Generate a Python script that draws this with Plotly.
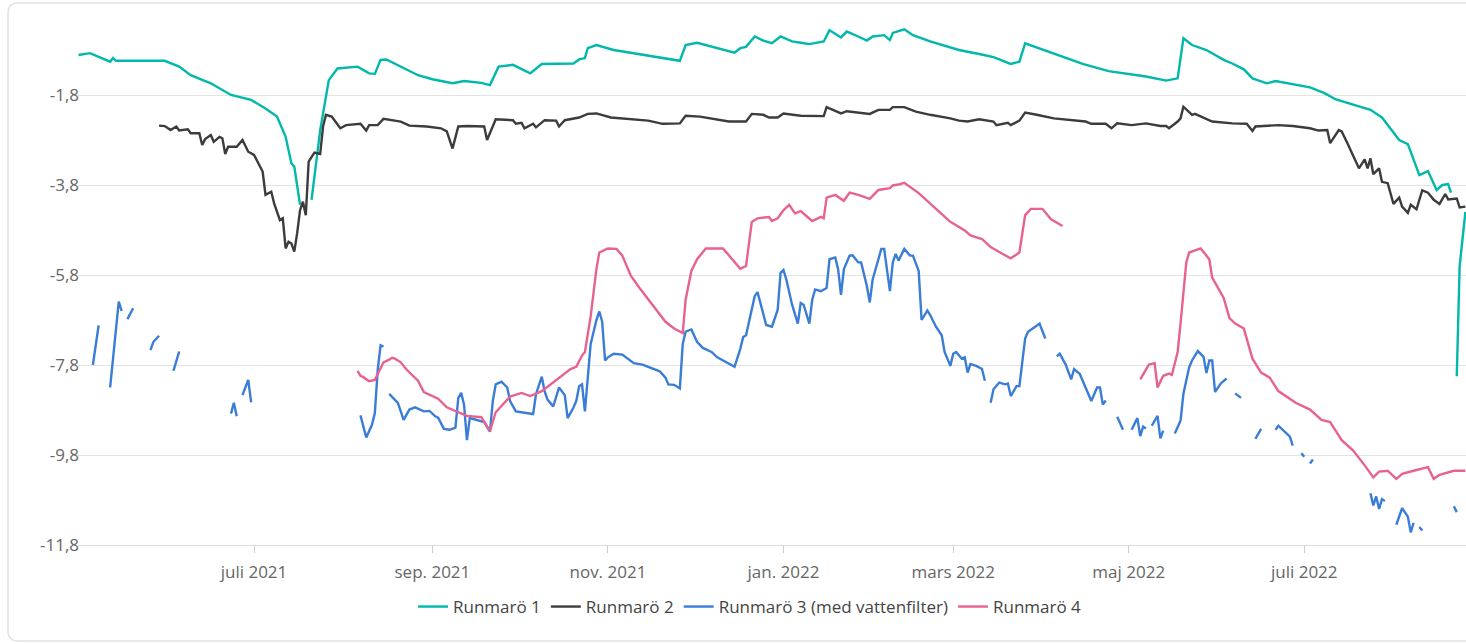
import plotly.graph_objects as go

# ---------------- data ----------------
r1_dates = ["2021-05-01","2021-05-05","2021-05-12","2021-05-13","2021-05-14","2021-05-31","2021-06-05","2021-06-09",
            "2021-06-16","2021-06-23","2021-06-30","2021-07-05","2021-07-09","2021-07-12","2021-07-14","2021-07-15",
            "2021-07-17","2021-07-19","2021-07-21","2021-07-23","2021-07-24","2021-07-27","2021-07-30","2021-08-06",
            "2021-08-10","2021-08-12","2021-08-14","2021-08-16","2021-08-21","2021-08-27","2021-09-01","2021-09-08",
            "2021-09-12","2021-09-18","2021-09-21","2021-09-24","2021-09-29","2021-10-05","2021-10-09","2021-10-20",
            "2021-10-22","2021-10-24","2021-10-25","2021-10-28","2021-11-03","2021-11-15","2021-11-26","2021-11-28",
            "2021-12-02","2021-12-15","2021-12-17","2021-12-19","2021-12-22","2021-12-25","2021-12-28","2021-12-31",
            "2022-01-04","2022-01-07","2022-01-10","2022-01-15","2022-01-17","2022-01-21","2022-01-23","2022-01-27",
            "2022-01-30","2022-02-01","2022-02-05","2022-02-07","2022-02-08","2022-02-12","2022-02-15","2022-02-21",
            "2022-03-01","2022-03-03","2022-03-10","2022-03-15","2022-03-21","2022-03-24","2022-03-26","2022-04-01",
            "2022-04-15","2022-04-24","2022-05-07","2022-05-14","2022-05-18","2022-05-20","2022-05-23","2022-05-28",
            "2022-06-03","2022-06-06","2022-06-10","2022-06-13","2022-06-18","2022-06-21","2022-07-03","2022-07-08",
            "2022-07-12","2022-07-24","2022-07-28","2022-08-03","2022-08-06","2022-08-10","2022-08-13","2022-08-16",
            "2022-08-18","2022-08-20","2022-08-21","2022-08-22","2022-08-23","2022-08-24","2022-08-26"]
r1_vals = [-0.91,-0.87,-1.06,-0.98,-1.04,-1.04,-1.17,-1.36,
           -1.54,-1.80,-1.91,-2.10,-2.28,-2.73,-3.32,-3.39,
           -4.24,None,-4.13,-3.17,-2.58,-1.47,-1.21,-1.17,
           -1.32,-1.33,-1.02,-1.01,-1.17,-1.36,-1.45,-1.54,
           -1.49,-1.53,-1.58,-1.17,-1.13,-1.32,-1.11,-1.10,
           -1.01,-0.98,-0.76,-0.69,-0.80,-0.93,-1.04,-0.69,
           -0.64,-0.86,-0.76,-0.73,-0.50,-0.59,-0.65,-0.50,
           -0.61,-0.64,-0.67,-0.61,-0.36,-0.52,-0.39,-0.50,
           -0.59,-0.50,-0.47,-0.58,-0.42,-0.34,-0.47,-0.61,
           -0.76,-0.80,-0.89,-0.96,-1.11,-1.06,-0.65,-0.79,
           -1.11,-1.27,-1.39,-1.48,-1.43,-0.54,-0.69,-0.80,
           -1.02,-1.10,-1.23,-1.43,-1.54,-1.49,-1.63,-1.76,
           -1.90,-2.13,-2.30,-2.80,-2.89,-3.58,-3.49,-3.91,
           -3.80,-3.78,-3.97,None,-8.05,-5.60,-4.40]

r2_dates = ["2021-05-29","2021-05-31","2021-06-02","2021-06-04","2021-06-05","2021-06-08","2021-06-09","2021-06-12",
            "2021-06-13","2021-06-14","2021-06-16","2021-06-17","2021-06-19","2021-06-20","2021-06-21","2021-06-22",
            "2021-06-25","2021-06-27","2021-06-29","2021-07-01","2021-07-04","2021-07-05","2021-07-07","2021-07-08",
            "2021-07-10","2021-07-11","2021-07-12","2021-07-13","2021-07-14","2021-07-15","2021-07-16","2021-07-17",
            "2021-07-18","2021-07-19","2021-07-20","2021-07-22","2021-07-24","2021-07-25","2021-07-26","2021-07-28",
            "2021-07-31","2021-08-02","2021-08-07","2021-08-09","2021-08-10","2021-08-13","2021-08-15","2021-08-21",
            "2021-08-24","2021-08-30","2021-09-04","2021-09-06","2021-09-08","2021-09-10","2021-09-13","2021-09-19",
            "2021-09-20","2021-09-23","2021-09-29","2021-09-30","2021-10-02","2021-10-03","2021-10-06","2021-10-07",
            "2021-10-10","2021-10-14","2021-10-15","2021-10-17","2021-10-22","2021-10-25","2021-10-28","2021-11-02",
            "2021-11-15","2021-11-20","2021-11-26","2021-11-28","2021-12-03","2021-12-13","2021-12-19","2021-12-21",
            "2021-12-25","2021-12-27","2021-12-30","2022-01-01","2022-01-07","2022-01-15","2022-01-16","2022-01-21",
            "2022-01-23","2022-01-31","2022-02-03","2022-02-07","2022-02-08","2022-02-12","2022-02-16","2022-02-21",
            "2022-02-28","2022-03-03","2022-03-06","2022-03-10","2022-03-15","2022-03-16","2022-03-20","2022-03-21",
            "2022-03-24","2022-03-26","2022-03-30","2022-04-05","2022-04-16","2022-04-18","2022-04-23","2022-04-25",
            "2022-04-27","2022-05-02","2022-05-07","2022-05-12","2022-05-14","2022-05-15","2022-05-18","2022-05-19",
            "2022-05-20","2022-05-21","2022-05-23","2022-05-24","2022-05-30","2022-06-06","2022-06-11","2022-06-13",
            "2022-06-14","2022-06-22","2022-06-27","2022-07-03","2022-07-06","2022-07-09","2022-07-10","2022-07-13",
            "2022-07-14","2022-07-16","2022-07-19","2022-07-20","2022-07-22","2022-07-23","2022-07-24","2022-07-25",
            "2022-07-27","2022-07-28","2022-07-30","2022-08-01","2022-08-03","2022-08-04","2022-08-06","2022-08-07",
            "2022-08-09","2022-08-11","2022-08-13","2022-08-15","2022-08-17","2022-08-19","2022-08-20","2022-08-23",
            "2022-08-24","2022-08-26"]
r2_vals = [-2.48,-2.49,-2.58,-2.50,-2.59,-2.56,-2.65,-2.65,
           -2.91,-2.78,-2.69,-2.84,-2.73,-2.76,-3.11,-2.95,
           -2.95,-2.80,-3.06,-3.13,-3.50,-4.02,-3.95,-4.21,
           -4.58,-4.54,-5.21,-5.06,-5.10,-5.28,-4.87,-4.36,
           -4.17,-4.47,-3.28,-3.08,-3.11,-2.50,-2.24,-2.28,
           -2.54,-2.47,-2.44,-2.59,-2.47,-2.47,-2.33,-2.39,
           -2.48,-2.50,-2.54,-2.61,-2.99,-2.50,-2.49,-2.50,
           -2.80,-2.34,-2.36,-2.44,-2.42,-2.54,-2.44,-2.52,
           -2.36,-2.37,-2.50,-2.36,-2.30,-2.22,-2.21,-2.30,
           -2.37,-2.44,-2.43,-2.26,-2.28,-2.39,-2.39,-2.22,
           -2.24,-2.30,-2.30,-2.21,-2.26,-2.27,-2.07,-2.21,
           -2.16,-2.22,-2.13,-2.13,-2.07,-2.07,-2.17,-2.24,
           -2.32,-2.37,-2.39,-2.34,-2.39,-2.47,-2.42,-2.47,
           -2.37,-2.19,-2.24,-2.32,-2.39,-2.44,-2.44,-2.54,
           -2.43,-2.47,-2.43,-2.49,-2.49,-2.54,-2.39,-2.32,
           -2.06,-2.12,-2.24,-2.22,-2.39,-2.43,-2.44,-2.60,
           -2.50,-2.47,-2.49,-2.54,-2.59,-2.58,-2.87,-2.58,
           -2.61,-2.87,-3.32,-3.43,-3.23,-3.43,-3.21,-3.56,
           -3.43,-3.73,-3.76,-4.22,-4.08,-4.28,-4.42,-4.24,
           -4.34,-3.92,-3.97,-4.13,-4.22,-4.00,-4.12,-4.10,
           -4.30,-4.28]

r3_dates = ["2021-05-06","2021-05-08","2021-05-10","2021-05-12","2021-05-15","2021-05-16","2021-05-17","2021-05-18",
            "2021-05-20","2021-05-23","2021-05-26","2021-05-27","2021-05-29","2021-06-01","2021-06-03","2021-06-05",
            "2021-06-10","2021-06-23","2021-06-24","2021-06-25","2021-06-26","2021-06-27","2021-06-29","2021-06-30",
            "2021-07-15","2021-08-07","2021-08-09","2021-08-11","2021-08-12","2021-08-13","2021-08-14","2021-08-15",
            "2021-08-16","2021-08-17","2021-08-20","2021-08-22","2021-08-24","2021-08-26","2021-08-29","2021-08-31",
            "2021-09-02","2021-09-03","2021-09-05","2021-09-07","2021-09-09","2021-09-10","2021-09-11","2021-09-12",
            "2021-09-13","2021-09-14","2021-09-16","2021-09-19","2021-09-21","2021-09-22","2021-09-23","2021-09-25",
            "2021-09-27","2021-09-28","2021-09-30","2021-10-02","2021-10-06","2021-10-07","2021-10-09","2021-10-10",
            "2021-10-11","2021-10-13","2021-10-15","2021-10-17","2021-10-18","2021-10-20","2021-10-21","2021-10-22",
            "2021-10-23","2021-10-24","2021-10-25","2021-10-26","2021-10-28","2021-10-29","2021-10-30","2021-10-31",
            "2021-11-01","2021-11-03","2021-11-06","2021-11-08","2021-11-10","2021-11-13","2021-11-16","2021-11-19",
            "2021-11-21","2021-11-22","2021-11-24","2021-11-26","2021-11-27","2021-11-28","2021-11-30","2021-12-02",
            "2021-12-04","2021-12-07","2021-12-09","2021-12-11","2021-12-13","2021-12-15","2021-12-17","2021-12-18",
            "2021-12-19","2021-12-22","2021-12-23","2021-12-24","2021-12-26","2021-12-28","2021-12-30","2021-12-31",
            "2022-01-01","2022-01-02","2022-01-04","2022-01-06","2022-01-07","2022-01-08","2022-01-10","2022-01-11",
            "2022-01-12","2022-01-14","2022-01-16","2022-01-17","2022-01-19","2022-01-20","2022-01-21","2022-01-22",
            "2022-01-24","2022-01-25","2022-01-27","2022-01-28","2022-01-30","2022-01-31","2022-02-01","2022-02-03",
            "2022-02-04","2022-02-05","2022-02-07","2022-02-08","2022-02-09","2022-02-10","2022-02-12","2022-02-14",
            "2022-02-15","2022-02-17","2022-02-18","2022-02-20","2022-02-21","2022-02-23","2022-02-25","2022-02-26",
            "2022-02-28","2022-03-01","2022-03-02","2022-03-04","2022-03-05","2022-03-06","2022-03-07","2022-03-09",
            "2022-03-11","2022-03-12","2022-03-13","2022-03-14","2022-03-15","2022-03-17","2022-03-19","2022-03-20",
            "2022-03-21","2022-03-23","2022-03-24","2022-03-26","2022-03-27","2022-03-29","2022-03-31","2022-04-02",
            "2022-04-04","2022-04-06","2022-04-07","2022-04-09","2022-04-11","2022-04-12","2022-04-14","2022-04-16",
            "2022-04-18","2022-04-20","2022-04-21","2022-04-22","2022-04-23","2022-04-25","2022-04-27","2022-04-29",
            "2022-05-01","2022-05-02","2022-05-04","2022-05-05","2022-05-06","2022-05-07","2022-05-08","2022-05-09",
            "2022-05-11","2022-05-12","2022-05-13","2022-05-15","2022-05-17","2022-05-19","2022-05-20","2022-05-22",
            "2022-05-23","2022-05-25","2022-05-27","2022-05-28","2022-05-29","2022-05-30","2022-05-31","2022-06-02",
            "2022-06-04","2022-06-05","2022-06-07","2022-06-09","2022-06-10","2022-06-14","2022-06-16","2022-06-17",
            "2022-06-21","2022-06-22","2022-06-25","2022-06-26","2022-06-27","2022-06-28","2022-06-30","2022-07-01",
            "2022-07-02","2022-07-03","2022-07-04","2022-07-05","2022-07-24","2022-07-25","2022-07-26","2022-07-27",
            "2022-07-28","2022-07-29","2022-07-31","2022-08-02","2022-08-04","2022-08-06","2022-08-07","2022-08-08",
            "2022-08-09","2022-08-10","2022-08-11","2022-08-12","2022-08-22","2022-08-23"]
r3_vals = [-7.80,-6.92,None,-8.30,-6.39,-6.60,None,-6.78,
           -6.54,None,-7.47,-7.29,-7.15,None,-7.93,-7.50,
           None,-8.88,-8.64,-8.94,None,-8.47,-8.13,-8.63,
           None,-8.92,-9.41,-9.13,-8.87,-7.90,-7.36,-7.39,
           None,-8.44,-8.64,-9.02,-8.79,-8.74,-8.83,-8.82,
           -8.94,-8.97,-9.22,-9.24,-9.19,-8.53,-8.42,-8.68,
           -9.47,-8.98,-9.02,-9.07,-9.28,-8.60,-8.23,-8.17,
           -8.30,-8.60,-8.83,-8.85,-8.89,-8.45,-8.06,-8.38,
           -8.57,-8.72,-8.30,-8.47,-8.98,-8.75,-8.60,-8.27,
           -8.23,-8.83,-8.08,-7.33,-6.80,-6.61,-6.84,-7.70,
           -7.63,-7.55,-7.57,-7.66,-7.76,-7.79,-7.87,-7.94,
           -8.08,-8.23,-8.24,-8.32,-7.33,-7.06,-7.01,-7.29,
           -7.42,-7.51,-7.63,-7.70,-7.78,-7.84,-7.44,-7.18,
           -7.14,-6.27,-6.18,-6.42,-6.91,-6.95,-6.57,-5.75,
           -5.69,-5.90,-6.46,-6.88,-6.42,-6.46,-6.88,-6.35,
           -6.12,-6.16,-6.09,-5.45,-5.41,-5.67,-6.24,-5.67,
           -5.37,-5.36,-5.52,-5.52,-6.05,-6.41,-5.90,-5.45,
           -5.22,-5.22,-6.16,-5.52,-5.33,-5.48,-5.22,-5.37,
           -5.37,-5.71,-6.80,-6.59,-6.69,-6.95,-7.14,-7.51,
           -7.82,-7.55,-7.51,-7.66,-7.63,-7.97,-7.78,-7.82,
           -7.89,-8.15,None,-8.64,-8.34,-8.19,-8.23,-8.21,
           -8.49,-8.27,-8.27,-7.21,-7.06,-6.97,-6.88,-7.21,
           None,-7.61,-7.55,-7.78,-8.12,-7.89,-8.00,-8.30,
           -8.60,-8.30,-8.30,-8.68,-8.59,None,-8.95,-9.24,
           None,-9.24,-8.98,-9.38,-9.17,-9.21,None,-9.15,
           -8.93,-9.43,-9.26,None,-9.32,-9.04,-8.44,-7.85,
           -7.70,-7.49,-7.62,-7.98,-7.70,-7.70,-8.40,-8.21,
           -8.10,None,-8.43,-8.53,None,-9.44,-9.22,None,
           -9.24,-9.15,-9.33,-9.39,-9.59,None,-9.76,-9.84,
           None,-9.99,-9.90,None,-10.65,-10.92,-10.72,-11.00,
           -10.78,-10.82,None,-11.35,-10.98,-11.17,-11.52,-11.31,
           None,-11.40,-11.48,None,-10.94,-11.07]

r4_dates = ["2021-08-06","2021-08-07","2021-08-08","2021-08-10","2021-08-12","2021-08-14","2021-08-15","2021-08-17",
            "2021-08-18","2021-08-19","2021-08-21","2021-08-23","2021-08-25","2021-08-27","2021-08-29","2021-09-03",
            "2021-09-06","2021-09-10","2021-09-13","2021-09-18","2021-09-21","2021-09-23","2021-09-28","2021-10-02",
            "2021-10-05","2021-10-09","2021-10-14","2021-10-19","2021-10-21","2021-10-23","2021-10-24","2021-10-26",
            "2021-10-28","2021-10-29","2021-11-01","2021-11-04","2021-11-06","2021-11-09","2021-11-12","2021-11-17",
            "2021-11-21","2021-11-24","2021-11-27","2021-11-28","2021-11-30","2021-12-02","2021-12-05","2021-12-11",
            "2021-12-15","2021-12-17","2021-12-19","2021-12-21","2021-12-23","2021-12-27","2021-12-28","2021-12-30",
            "2022-01-01","2022-01-03","2022-01-05","2022-01-07","2022-01-11","2022-01-14","2022-01-15","2022-01-16",
            "2022-01-19","2022-01-22","2022-01-24","2022-01-27","2022-01-31","2022-02-03","2022-02-07","2022-02-08",
            "2022-02-10","2022-02-12","2022-02-17","2022-02-21","2022-02-28","2022-03-05","2022-03-07","2022-03-11",
            "2022-03-14","2022-03-19","2022-03-21","2022-03-24","2022-03-25","2022-03-26","2022-03-28","2022-04-01",
            "2022-04-04","2022-04-08","2022-04-09","2022-05-05","2022-05-08","2022-05-10","2022-05-11","2022-05-13",
            "2022-05-15","2022-05-16","2022-05-18","2022-05-19","2022-05-21","2022-05-22","2022-05-26","2022-05-29",
            "2022-05-30","2022-06-03","2022-06-05","2022-06-07","2022-06-10","2022-06-13","2022-06-16","2022-06-19",
            "2022-06-22","2022-06-28","2022-07-03","2022-07-07","2022-07-10","2022-07-14","2022-07-18","2022-07-22",
            "2022-07-25","2022-07-27","2022-07-30","2022-08-02","2022-08-04","2022-08-08","2022-08-13","2022-08-15",
            "2022-08-17","2022-08-22","2022-08-26"]
r4_vals = [-7.93,-8.04,-8.07,-8.16,-8.13,-7.87,-7.74,-7.68,
           -7.64,-7.66,-7.74,-7.90,-8.02,-8.15,-8.40,-8.55,
           -8.74,-8.85,-8.93,-8.96,-9.27,-8.85,-8.50,-8.42,
           -8.49,-8.38,-8.14,-7.89,-7.84,-7.59,-7.51,-6.72,
           -5.67,-5.30,-5.21,-5.22,-5.37,-5.82,-6.09,-6.50,
           -6.84,-6.99,-7.09,-6.35,-5.71,-5.45,-5.21,-5.21,
           -5.52,-5.66,-5.60,-4.62,-4.54,-4.51,-4.60,-4.54,
           -4.36,-4.24,-4.43,-4.38,-4.60,-4.51,-4.54,-4.08,
           -4.02,-4.15,-3.97,-4.02,-4.11,-3.91,-3.87,-3.81,
           -3.79,-3.75,-3.98,-4.21,-4.62,-4.81,-4.92,-5.00,
           -5.18,-5.36,-5.43,-5.30,-4.92,-4.47,-4.33,-4.33,
           -4.56,-4.71,None,-8.12,-7.79,-7.76,-8.30,-8.04,
           -7.99,-8.02,-7.51,-6.88,-5.52,-5.30,-5.21,-5.45,
           -5.86,-6.31,-6.76,-6.88,-6.99,-7.66,-7.97,-8.08,
           -8.38,-8.64,-8.79,-9.02,-9.07,-9.47,-9.70,-10.03,
           -10.30,-10.17,-10.15,-10.33,-10.22,-10.15,-10.07,-10.33,
           -10.24,-10.15,-10.15]

series_names = ["Runmarö 1", "Runmarö 2", "Runmarö 3 (med vattenfilter)", "Runmarö 4"]
series_colors = ["#01B8AA", "#3c3c3c", "#3A7DD6", "#E8628F"]

y_tickvals = [-1.8, -3.8, -5.8, -7.8, -9.8, -11.8]
y_ticktext = ["-1,8", "-3,8", "-5,8", "-7,8", "-9,8", "-11,8"]
x_tickvals = ["2021-07-01", "2021-09-01", "2021-11-01", "2022-01-01", "2022-03-01", "2022-05-01", "2022-07-01"]
x_ticktext = ["juli 2021", "sep. 2021", "nov. 2021", "jan. 2022", "mars 2022", "maj 2022", "juli 2022"]

# ---------------- figure ----------------
W, H = 1466, 644
ML, MR, MT, MB = 78, 0, 20, 99
PW, PH = W - ML - MR, H - MT - MB

fig = go.Figure()
for name, color, xs, ys in zip(series_names, series_colors,
                               [r1_dates, r2_dates, r3_dates, r4_dates],
                               [r1_vals, r2_vals, r3_vals, r4_vals]):
    fig.add_trace(go.Scatter(x=xs, y=ys, name=name, mode="lines",
                             line=dict(color=color, width=2.4), connectgaps=False))

def px_x(p):
    return (p - ML) / PW

def px_y(p):
    return (H - MB - p) / PH

# card outline (rounded rectangle around the visual)
L, T, B, R, rad = 8, 3, 641, 1490, 10
card_path = (f"M {px_x(R)},{px_y(T)} L {px_x(L+rad)},{px_y(T)} "
             f"Q {px_x(L)},{px_y(T)} {px_x(L)},{px_y(T+rad)} "
             f"L {px_x(L)},{px_y(B-rad)} Q {px_x(L)},{px_y(B)} {px_x(L+rad)},{px_y(B)} "
             f"L {px_x(R)},{px_y(B)}")

fig.update_layout(
    width=W, height=H,
    margin=dict(l=ML, r=MR, t=MT, b=MB),
    paper_bgcolor="white", plot_bgcolor="white",
    font=dict(family="Open Sans, sans-serif", size=17, color="#666666"),
    shapes=[dict(type="path", xref="paper", yref="paper", path=card_path,
                 line=dict(color="#e2e2e2", width=1.5), layer="below")],
    showlegend=True,
    legend=dict(orientation="h", x=px_x(750), xanchor="center", y=px_y(607), yanchor="middle",
                font=dict(size=17, color="#444444"), bgcolor="rgba(0,0,0,0)",
                itemwidth=30, tracegroupgap=0),
    xaxis=dict(type="date", range=["2021-04-30 20:00", "2022-08-26 05:00"],
               tickvals=x_tickvals, ticktext=x_ticktext,
               showgrid=False, zeroline=False,
               showline=True, linecolor="#dcdcdc", linewidth=1,
               ticks="outside", ticklen=7, tickcolor="#cccccc", tickwidth=1,
               ticklabelstandoff=5,
               tickfont=dict(size=17, color="#666666")),
    yaxis=dict(range=[-11.8, -11.8 + PH / 45.0],
               tickvals=y_tickvals, ticktext=y_ticktext,
               showgrid=True, gridcolor="#e3e3e3", gridwidth=1,
               zeroline=False, showline=False, ticks="",
               ticklabelstandoff=-2,
               tickfont=dict(size=17, color="#666666")),
)

fig.write_html("out.html",
               config={"displayModeBar": False},
               post_script="document.body.style.margin='0px';document.body.style.padding='0px';")
